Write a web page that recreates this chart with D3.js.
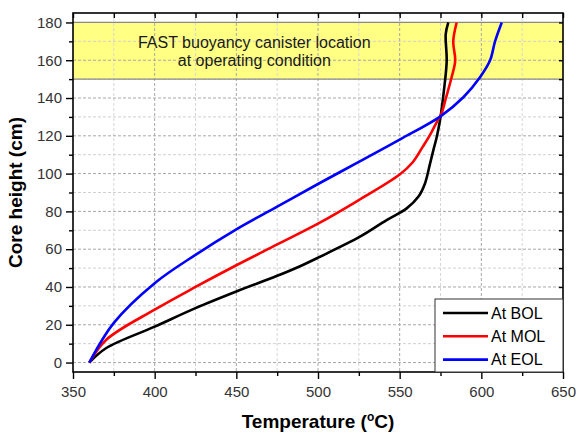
<!DOCTYPE html>
<html>
<head>
<meta charset="utf-8">
<script src="https://cdnjs.cloudflare.com/ajax/libs/d3/7.8.5/d3.min.js"></script>
<style>
  body { margin: 0; background: #fff; }
  svg { font-family: "Liberation Sans", Arial, sans-serif; }
</style>
</head>
<body>
<div id="vis1"></div>
<script>
// temperature (C) vs core height (cm)
var bolTemp   = [360, 370.4, 400, 425, 450,  475,  489, 500,  525.7, 542,  554.3, 561.4, 565.5, 568.6, 570.6, 572.7, 574.7, 577.1, 578.8, 578.2, 579.8];
var bolHeight = [0,   7.7,   19,  28.8, 37.6, 45.9, 51, 55.5, 66.6,  75.4, 81.6,  87.7,  94.8,  105.3, 112.3, 119.4, 128.2, 144,   159.8, 173.8, 180];

var molTemp   = [360, 370.4, 400, 425, 450,  475,  500,  525, 550,  558, 564, 568.6, 572.7, 575.7, 578, 581.8, 584,   582.8, 584.9];
var molHeight = [0,   12.1,  28,  40,  51.5, 62.5, 73.5, 86,  99.5, 106, 114, 120.5, 127.3, 132,   139, 151,   159.8, 170,   180];

var eolTemp   = [360, 375, 400, 425, 450,  475,  500,  525,   550, 575,   589,   599.2, 605.3, 608.4, 612.5];
var eolHeight = [0,   21,  42,  57,  70.5, 82.5, 94.5, 106.2, 118, 130.3, 140.4, 151,   159.8, 170,   180];

var seriesNames = ["At BOL", "At MOL", "At EOL"];
var seriesColors = ["#000000", "#ff0000", "#0000ff"];

var xTicks = [350, 400, 450, 500, 550, 600, 650];
var yTicks = [0, 20, 40, 60, 80, 100, 120, 140, 160, 180];
var bandRange = [150, 180];
var bandText = ["FAST buoyancy canister location", "at operating condition"];

var margin = {top: 13, right: 15, bottom: 60, left: 73},
    width = 578 - margin.left - margin.right,
    height = 432 - margin.top - margin.bottom;

var x = d3.scaleLinear().domain([350, 650]).range([0, width]);
var y = d3.scaleLinear().domain([-5, 185]).range([height, 0]);

var svg = d3.select("#vis1").append("svg")
    .attr("width", 578)
    .attr("height", 432)
    .append("g")
    .attr("transform", "translate(" + margin.left + "," + margin.top + ")");

// yellow band
svg.append("rect")
    .attr("x", 0)
    .attr("y", y(bandRange[1]))
    .attr("width", width)
    .attr("height", y(bandRange[0]) - y(bandRange[1]))
    .style("fill", "#ffff84");

// grid
var xMinor = d3.range(375, 650, 50);
var yMinor = d3.range(10, 185, 20);

svg.selectAll(".gx-minor").data(xMinor).enter().append("line")
    .attr("x1", x).attr("x2", x).attr("y1", 0).attr("y2", height)
    .style("stroke", "#d6d6d6").style("stroke-dasharray", "3,2");
svg.selectAll(".gy-minor").data(yMinor).enter().append("line")
    .attr("x1", 0).attr("x2", width).attr("y1", y).attr("y2", y)
    .style("stroke", "#d0d0d0").style("stroke-dasharray", "3,2");
svg.selectAll(".gx").data(xTicks.slice(1, -1)).enter().append("line")
    .attr("x1", x).attr("x2", x).attr("y1", 0).attr("y2", height)
    .style("stroke", "#a8a8a8").style("stroke-dasharray", "3,2");
svg.selectAll(".gy").data(yTicks).enter().append("line")
    .attr("x1", 0).attr("x2", width).attr("y1", y).attr("y2", y)
    .style("stroke", "#a8a8a8").style("stroke-dasharray", "3,2");

// band edges
svg.selectAll(".band-edge").data(bandRange).enter().append("line")
    .attr("x1", 0).attr("x2", width).attr("y1", y).attr("y2", y)
    .style("stroke", "#8a8a8a").style("stroke-width", 1.2);

var bx = x(461);
var bt = svg.append("text")
    .attr("x", bx)
    .attr("y", y(166.5))
    .attr("text-anchor", "middle")
    .style("font-size", "16px")
    .style("fill", "#1a1a1a");
bt.append("tspan").attr("x", bx).text(bandText[0]);
bt.append("tspan").attr("x", bx).attr("dy", 18).text(bandText[1]);

// curves
var series = [
    {name: seriesNames[0], color: seriesColors[0], t: bolTemp, h: bolHeight},
    {name: seriesNames[1], color: seriesColors[1], t: molTemp, h: molHeight},
    {name: seriesNames[2], color: seriesColors[2], t: eolTemp, h: eolHeight}
];

var line = d3.line()
    .x(function(d) { return x(d[0]); })
    .y(function(d) { return y(d[1]); })
    .curve(d3.curveCatmullRom.alpha(0.5));

svg.selectAll(".curve").data(series).enter().append("path")
    .attr("class", "curve")
    .attr("d", function(s) { return line(s.t.map(function(v, i) { return [v, s.h[i]]; })); })
    .style("fill", "none")
    .style("stroke", function(s) { return s.color; })
    .style("stroke-width", 2.6)
    .style("stroke-linejoin", "round");

// axes
function styleAxis(g) {
    g.select(".domain").remove();
    g.selectAll(".tick line").style("stroke", "#000").style("stroke-width", 1.4);
    g.selectAll(".tick text").style("font-size", "15px").style("fill", "#333")
        .style("font-family", "Liberation Sans, Arial, sans-serif");
}

svg.append("g")
    .attr("transform", "translate(0," + height + ")")
    .call(d3.axisBottom(x).tickValues(xTicks).tickSize(7).tickPadding(7))
    .call(styleAxis);
svg.append("g")
    .attr("transform", "translate(0," + height + ")")
    .call(d3.axisBottom(x).tickValues(xMinor).tickSize(4).tickFormat(""))
    .call(styleAxis);
svg.append("g")
    .call(d3.axisLeft(y).tickValues(yTicks).tickSize(7).tickPadding(4))
    .call(styleAxis);
svg.append("g")
    .call(d3.axisLeft(y).tickValues(yMinor).tickSize(4).tickFormat(""))
    .call(styleAxis);
// top and right: inward ticks
svg.append("g")
    .call(d3.axisBottom(x).tickValues(xTicks.concat(xMinor)).tickSize(5).tickFormat(""))
    .call(styleAxis);
svg.append("g")
    .attr("transform", "translate(" + width + ",0)")
    .call(d3.axisLeft(y).tickValues(yTicks.concat(yMinor)).tickSize(4).tickFormat(""))
    .call(styleAxis);

svg.append("rect")
    .attr("width", width)
    .attr("height", height)
    .style("fill", "none")
    .style("stroke", "#000")
    .style("stroke-width", 1.6);

// axis titles
var xt = svg.append("text")
    .attr("x", width / 2)
    .attr("y", height + 56)
    .attr("text-anchor", "middle")
    .style("font-size", "19px")
    .style("font-weight", "bold")
    .style("fill", "#000");
xt.append("tspan").text("Temperature (");
xt.append("tspan").attr("dy", -7).style("font-size", "12px").text("o");
xt.append("tspan").attr("dy", 7).text("C)");

svg.append("text")
    .attr("transform", "rotate(-90)")
    .attr("x", -height / 2)
    .attr("y", -51)
    .attr("text-anchor", "middle")
    .style("font-size", "19px")
    .style("font-weight", "bold")
    .style("fill", "#000")
    .text("Core height (cm)");

// legend
var legend = svg.append("g")
    .attr("transform", "translate(" + (width - 128) + "," + (height - 73) + ")");

legend.append("rect")
    .attr("width", 128)
    .attr("height", 73)
    .style("fill", "#fff")
    .style("stroke", "#333")
    .style("stroke-width", 1);

var item = legend.selectAll(".legend").data(series).enter().append("g")
    .attr("transform", function(d, i) { return "translate(0," + (14 + 23.3 * i) + ")"; });

item.append("line")
    .attr("x1", 8).attr("x2", 53)
    .style("stroke", function(d) { return d.color; })
    .style("stroke-width", 2.6);

item.append("text")
    .attr("x", 56)
    .attr("dy", "0.36em")
    .style("font-size", "16px")
    .style("fill", "#000")
    .text(function(d) { return d.name; });
</script>
</body>
</html>
